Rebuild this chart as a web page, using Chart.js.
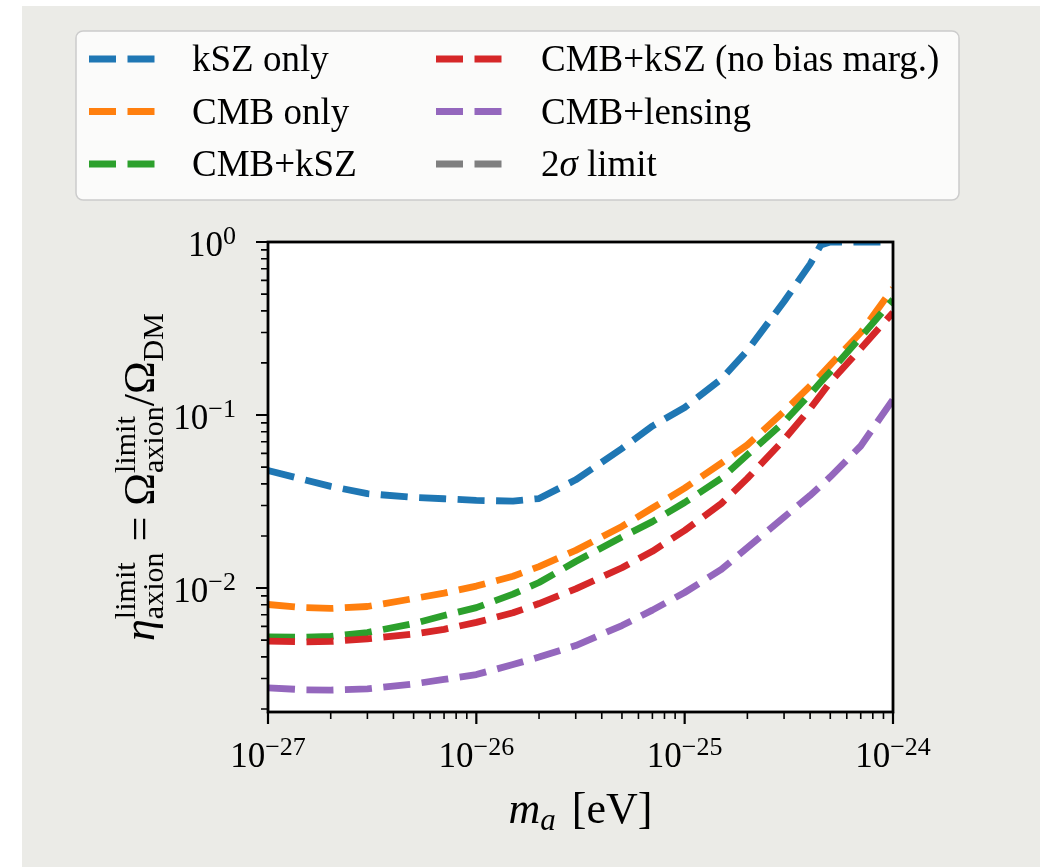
<!DOCTYPE html>
<html>
<head>
<meta charset="utf-8">
<title>Axion fraction limits</title>
<script src="https://cdn.jsdelivr.net/npm/chart.js@4.4.1/dist/chart.umd.min.js"></script>
<style>
  html, body { margin: 0; padding: 0; background: #ffffff; overflow: hidden; }
  #sheet { position: absolute; left: 22px; top: 6px; width: 1018px; height: 861px; background: #ebebe7; }
  #wrap { position: absolute; left: 0; top: 0; width: 1050px; height: 867px; }
</style>
</head>
<body>
<div id="sheet"></div>
<div id="wrap"><canvas id="limitChart" width="1050" height="867"></canvas></div>
<script>
// axion mass grid [eV] and the upper limits on the axion fraction
const massEv = [1e-27, 1.5e-27, 2e-27, 3e-27, 5e-27, 7e-27, 1e-26, 1.5e-26, 2e-26, 3e-26,
  5e-26, 7e-26, 1e-25, 1.5e-25, 2e-25, 3e-25, 4e-25, 4.5e-25, 5e-25, 7e-25, 1e-24];

const kszOnly = [0.0478, 0.0422, 0.0387, 0.0351, 0.0334, 0.0328, 0.0321, 0.0318, 0.0329, 0.0422,
  0.064, 0.0863, 0.1105, 0.1615, 0.236, 0.453, 0.745, 0.96, 1, 1, 1];
const cmbOnly = [0.00803, 0.0077, 0.00762, 0.00782, 0.00869, 0.00935, 0.01026, 0.0117, 0.0133, 0.0165,
  0.0227, 0.029, 0.0378, 0.0527, 0.0672, 0.105, 0.147, 0.170, 0.195, 0.30, 0.54];
const cmbKsz = [0.00522, 0.00519, 0.00525, 0.00553, 0.00623, 0.00693, 0.0077, 0.00922, 0.01076, 0.01422,
  0.0197, 0.0242, 0.0312, 0.0431, 0.0589, 0.0911, 0.132, 0.155, 0.178, 0.282, 0.465];
const cmbKszNoBias = [0.00493, 0.00488, 0.00491, 0.00508, 0.00542, 0.00577, 0.00633, 0.00719, 0.00813, 0.00988,
  0.0131, 0.0163, 0.0215, 0.0308, 0.043, 0.0721, 0.1087, 0.131, 0.155, 0.242, 0.391];
const cmbLensing = [0.00265, 0.00258, 0.00257, 0.00261, 0.00279, 0.00296, 0.00316, 0.00361, 0.00399, 0.00465,
  0.00607, 0.00745, 0.00942, 0.0128, 0.0171, 0.0257, 0.0343, 0.039, 0.0439, 0.0662, 0.123];

const seriesNames = ['kSZ only', 'CMB only', 'CMB+kSZ', 'CMB+kSZ (no bias marg.)', 'CMB+lensing', '2σ limit'];
const seriesColors = ['#1f77b4', '#ff7f0e', '#2ca02c', '#d62728', '#9467bd', '#7f7f7f'];
const seriesValues = [kszOnly, cmbOnly, cmbKsz, cmbKszNoBias, cmbLensing, []];

// decades that get a labelled tick
const xDecades = [-27, -26, -25, -24];
const yDecades = [-2, -1, 0];
const yMin = 1.92e-3;
const yMax = 1;

const serif = "'Liberation Serif', 'Times New Roman', serif";
const MINUS = '\u2212';

// --- small rich-text helper for super/subscripts ---
function partWidth(ctx, p) {
  if (p.stack) return Math.max(...p.stack.map(q => partWidth(ctx, q)));
  ctx.font = p.font;
  return ctx.measureText(p.text).width + (p.gap || 0);
}

function drawRich(ctx, parts, x, y, align) {
  const total = parts.reduce((s, p) => s + partWidth(ctx, p), 0);
  let cx = align === 'center' ? x - total / 2 : align === 'right' ? x - total : x;
  ctx.textAlign = 'left';
  ctx.textBaseline = 'alphabetic';
  parts.forEach(p => {
    const w = partWidth(ctx, p);
    (p.stack || [p]).forEach(q => {
      ctx.font = q.font;
      ctx.fillText(q.text, cx, y + (q.dy || 0));
    });
    cx += w;
  });
}

const tickBase = `35px ${serif}`;
const tickExp = `26px ${serif}`;
const powerLabel = d => [
  { text: '10', font: tickBase },
  { text: d < 0 ? MINUS + Math.abs(d) : String(d), font: tickExp, dy: -12 }
];

const mainFont = `44px ${serif}`;
const mainItalic = `italic 44px ${serif}`;
const scriptFont = `30px ${serif}`;
const yTitle = [
  { text: 'η', font: mainItalic },
  { stack: [{ text: 'limit', font: scriptFont, dy: -19 }, { text: 'axion', font: scriptFont, dy: 9 }] },
  { text: ' = ', font: mainFont },
  { text: 'Ω', font: mainFont },
  { stack: [{ text: 'limit', font: scriptFont, dy: -19 }, { text: 'axion', font: scriptFont, dy: 9 }] },
  { text: '/', font: mainFont },
  { text: 'Ω', font: mainFont },
  { text: 'DM', font: scriptFont, dy: 9 }
];
const xTitle = [
  { text: 'm', font: `italic 44px ${serif}` },
  { text: 'a', font: `italic 31px ${serif}`, dy: 7, gap: 5 },
  { text: ' [eV]', font: `44px ${serif}` }
];

const legendFont = `37px ${serif}`;
function legendParts(label) {
  if (!label.includes('σ')) return [{ text: label, font: legendFont }];
  const [pre, post] = label.split('σ');
  return [
    { text: pre, font: legendFont },
    { text: 'σ', font: `italic 37px ${serif}` },
    { text: post, font: legendFont }
  ];
}

const axisDecor = {
  id: 'axisDecor',
  beforeDatasetsDraw(chart) {
    const { ctx, chartArea: a } = chart;
    ctx.save();
    ctx.fillStyle = '#ffffff';
    ctx.fillRect(a.left, a.top, a.right - a.left, a.bottom - a.top);
    ctx.restore();
  },
  afterDatasetsDraw(chart) {
    const { ctx, chartArea: a } = chart;
    const xs = chart.scales.x, ys = chart.scales.y;
    ctx.save();
    ctx.strokeStyle = '#000000';
    ctx.fillStyle = '#000000';

    // minor ticks
    ctx.lineWidth = 1.6;
    ctx.beginPath();
    for (let d = -28; d <= -24; d++) {
      for (let k = 2; k <= 9; k++) {
        const v = k * Math.pow(10, d);
        if (v > 1e-27 && v < 1e-24) {
          const px = xs.getPixelForValue(v);
          ctx.moveTo(px, a.bottom); ctx.lineTo(px, a.bottom + 7);
        }
      }
    }
    for (let d = -3; d <= 0; d++) {
      for (let k = 2; k <= 9; k++) {
        const v = k * Math.pow(10, d);
        if (v > yMin && v < yMax) {
          const py = ys.getPixelForValue(v);
          ctx.moveTo(a.left, py); ctx.lineTo(a.left - 7, py);
        }
      }
    }
    ctx.stroke();

    // major ticks
    ctx.lineWidth = 2.2;
    ctx.beginPath();
    xDecades.forEach(d => {
      const px = xs.getPixelForValue(Math.pow(10, d));
      ctx.moveTo(px, a.bottom); ctx.lineTo(px, a.bottom + 12);
    });
    yDecades.forEach(d => {
      const py = ys.getPixelForValue(Math.pow(10, d));
      ctx.moveTo(a.left, py); ctx.lineTo(a.left - 12, py);
    });
    ctx.stroke();

    // frame
    ctx.lineWidth = 2.8;
    ctx.strokeRect(a.left, a.top, a.right - a.left, a.bottom - a.top);

    // tick labels
    xDecades.forEach(d => {
      drawRich(ctx, powerLabel(d), xs.getPixelForValue(Math.pow(10, d)), a.bottom + 55, 'center');
    });
    yDecades.forEach(d => {
      drawRich(ctx, powerLabel(d), a.left - 32, ys.getPixelForValue(Math.pow(10, d)) + 14, 'right');
    });

    // axis titles
    drawRich(ctx, xTitle, (a.left + a.right) / 2, a.bottom + 111, 'center');
    ctx.translate(154, (a.top + a.bottom) / 2);
    ctx.rotate(-Math.PI / 2);
    drawRich(ctx, yTitle, 0, 0, 'center');
    ctx.restore();
  },
  afterDraw(chart) {
    const { ctx } = chart;
    ctx.save();
    // legend frame
    const bx = 76, by = 31, bw = 883, bh = 169, r = 7;
    ctx.beginPath();
    ctx.roundRect(bx, by, bw, bh, r);
    ctx.fillStyle = 'rgba(255,255,255,0.8)';
    ctx.fill();
    ctx.lineWidth = 1.5;
    ctx.strokeStyle = '#cccccc';
    ctx.stroke();

    const colHandle = [89, 436];
    const colText = [192, 541];
    chart.data.datasets.forEach((ds, i) => {
      const col = Math.floor(i / 3), row = i % 3;
      const y = 59 + row * 52.5;
      ctx.save();
      ctx.strokeStyle = ds.borderColor;
      ctx.lineWidth = 7;
      ctx.lineCap = 'butt';
      ctx.setLineDash(ds.borderDash);
      ctx.beginPath();
      ctx.moveTo(colHandle[col], y);
      ctx.lineTo(colHandle[col] + 68, y);
      ctx.stroke();
      ctx.restore();
      ctx.fillStyle = '#000000';
      drawRich(ctx, legendParts(ds.label), colText[col], y + 12, 'left');
    });
    ctx.restore();
  }
};

const datasets = seriesValues.map((vals, i) => ({
  label: seriesNames[i],
  data: vals.map((v, j) => ({ x: massEv[j], y: v })),
  borderColor: seriesColors[i],
  backgroundColor: seriesColors[i],
  borderWidth: 6.8,
  borderDash: [27, 11.5],
  borderCapStyle: 'butt',
  borderJoinStyle: 'round',
  pointRadius: 0,
  tension: 0,
  fill: false,
  clip: 0,
  order: seriesValues.length - i
}));

new Chart(document.getElementById('limitChart').getContext('2d'), {
  type: 'line',
  data: { datasets },
  options: {
    responsive: false,
    animation: false,
    devicePixelRatio: 1,
    parsing: false,
    layout: { padding: { left: 268, top: 242, right: 157, bottom: 155 } },
    plugins: { legend: { display: false }, tooltip: { enabled: false } },
    scales: {
      x: { type: 'logarithmic', min: 1e-27, max: 1e-24, display: false },
      y: { type: 'logarithmic', min: yMin, max: yMax, display: false }
    }
  },
  plugins: [axisDecor]
});
</script>
</body>
</html>
